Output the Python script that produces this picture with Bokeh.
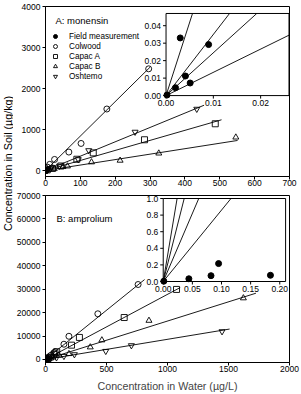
import numpy as np
from bokeh.plotting import figure
from bokeh.models import Range1d, Legend, LegendItem, Label
from bokeh.layouts import row, column
from bokeh.embed import file_html
from bokeh.resources import INLINE
from bokeh.core.properties import value

FONT = "Liberation Sans"

# ---------------- data ----------------
soil_names = ["Colwood", "Capac A", "Capac B", "Oshtemo"]
soil_markers = ["circle", "square", "triangle", "inverted_triangle"]

# A: monensin  (water conc. ug/L, soil conc. ug/kg)
mon_colwood_w = [3, 6, 12, 26, 67, 102, 176, 296]
mon_colwood_s = [40, 80, 150, 270, 450, 660, 1500, 2480]
mon_capacA_w = [5, 20, 44, 90, 137, 284, 487]
mon_capacA_s = [15, 50, 110, 275, 430, 750, 1140]
mon_capacB_w = [5, 25, 50, 63, 132, 214, 325, 546]
mon_capacB_s = [10, 40, 90, 105, 205, 245, 420, 810]
mon_oshtemo_w = [5, 15, 40, 94, 124, 257, 434]
mon_oshtemo_s = [20, 50, 110, 270, 490, 940, 1500]
mon_kd = [8.4, 2.45, 1.33, 3.5]          # fitted slopes, same order as soil_names
mon_line_end = [300, 505, 551, 455]      # x extent of each fitted line
mon_field_w = [0.0002, 0.0020, 0.0030, 0.0041, 0.0051, 0.0090]
mon_field_s = [0.0003, 0.0045, 0.0330, 0.0112, 0.0072, 0.0292]

# B: amprolium
amp_colwood_w = [4, 12, 25, 45, 70, 80, 151, 192, 429, 759]
amp_colwood_s = [120, 450, 1000, 1800, 2900, 3300, 6500, 9900, 19500, 32000]
amp_capacA_w = [6, 20, 40, 70, 92, 213, 278, 645, 1074]
amp_capacA_s = [150, 500, 1000, 2200, 3300, 6100, 9400, 17900, 29900]
amp_capacB_w = [8, 25, 60, 110, 192, 367, 462, 848, 1622]
amp_capacB_s = [120, 400, 900, 1700, 2400, 5250, 8250, 16600, 26200]
amp_oshtemo_w = [10, 40, 90, 151, 237, 494, 704, 1447]
amp_oshtemo_s = [100, 350, 800, 1400, 2130, 3550, 5980, 11950]
amp_kd = [42.0, 27.8, 16.4, 8.6]
amp_line_end = [812, 1104, 1725, 1509]
amp_field_w = [0.001, 0.044, 0.082, 0.095, 0.184]
amp_field_s = [0.004, 0.033, 0.070, 0.216, 0.075]

# axis ticks
mon_xticks = [0, 100, 200, 300, 400, 500, 600, 700]
mon_yticks = [0, 1000, 2000, 3000, 4000]
amp_xticks = [0, 500, 1000, 1500, 2000]
amp_yticks = [0, 10000, 20000, 30000, 40000, 50000, 60000, 70000]
mon_inset_xticks = [0.0, 0.01, 0.02]
mon_inset_xlabels = ["0.00", "0.01", "0.02"]
mon_inset_yticks = [0.0, 0.01, 0.02, 0.03, 0.04]
mon_inset_ylabels = ["0.00", "0.01", "0.02", "0.03", "0.04"]
amp_inset_xticks = [0.0, 0.05, 0.10, 0.15, 0.20]
amp_inset_xlabels = ["0.00", "0.05", "0.10", "0.15", "0.20"]
amp_inset_yticks = [0.0, 0.2, 0.4, 0.6, 0.8, 1.0]
amp_inset_ylabels = ["0.0", "0.2", "0.4", "0.6", "0.8", "1.0"]

TICK_FS = "8.5px"


def style_axes(p, xticks, yticks):
    for ax in (p.xaxis, p.yaxis):
        ax.axis_line_color = "black"
        ax.major_tick_line_color = "black"
        ax.major_tick_out = 3
        ax.major_tick_in = 0
        ax.minor_tick_line_color = None
        ax.major_label_text_font = FONT
        ax.major_label_text_font_size = TICK_FS
        ax.major_label_text_color = "black"
    p.xaxis.major_label_standoff = 0
    p.yaxis.major_label_standoff = 2
    p.xaxis.ticker = xticks
    p.yaxis.ticker = yticks
    p.xgrid.visible = False
    p.ygrid.visible = False
    p.outline_line_color = "black"
    p.outline_line_alpha = 1.0
    p.outline_line_width = 1


def draw_series(p, xs_list, ys_list, kds, line_ends):
    rends = []
    for xs, ys, k, xe, m in zip(xs_list, ys_list, kds, line_ends, soil_markers):
        p.line([0, xe], [0, k * xe], line_color="black", line_width=0.9)
        r = p.scatter(xs, ys, marker=m, size=6, fill_color=None,
                      line_color="black", line_width=0.9)
        rends.append(r)
    return rends


def add_inset(p, name, xr, yr, fx, fy, kds, fw, fs,
              xticks, xlabels, yticks, ylabels):
    def full(d, f):
        span = (d[1] - d[0]) / (f[1] - f[0])
        start = d[0] - f[0] * span
        return Range1d(start, start + span)

    p.extra_x_ranges = {**p.extra_x_ranges, name: full(xr, fx)}
    p.extra_y_ranges = {**p.extra_y_ranges, name: full(yr, fy)}
    kw = dict(x_range_name=name, y_range_name=name)

    p.quad(left=[xr[0]], right=[xr[1]], bottom=[yr[0]], top=[yr[1]],
           fill_color="white", line_color="black", line_width=1, **kw)
    for k in kds:
        xe = min(xr[1], yr[1] / k)
        p.line([0, xe], [0, k * xe], line_color="black", line_width=0.9, **kw)
    p.scatter(fw, fs, marker="circle", size=6, fill_color="black",
              line_color="black", **kw)
    p.ray(x=[xr[0]] * len(yticks), y=yticks, length=3, length_units="screen",
          angle=np.pi, line_color="black", line_width=1, **kw)
    p.ray(x=xticks, y=[yr[0]] * len(xticks), length=3, length_units="screen",
          angle=-np.pi / 2, line_color="black", line_width=1, **kw)
    p.text(x=[xr[0]] * len(yticks), y=yticks, text=ylabels,
           text_align="right", text_baseline="middle", x_offset=-5,
           text_font=value(FONT), text_font_size=TICK_FS, text_color="black", **kw)
    p.text(x=xticks, y=[yr[0]] * len(xticks), text=xlabels,
           text_align="center", text_baseline="top", y_offset=4,
           text_font=value(FONT), text_font_size=TICK_FS, text_color="black", **kw)


# ---------------- panel A ----------------
pa = figure(width=288, height=189, x_range=Range1d(0, 700), y_range=Range1d(-146, 4000),
            output_backend="svg", toolbar_location=None,
            min_border_left=30, min_border_right=12, min_border_top=6, min_border_bottom=13)
style_axes(pa, mon_xticks, mon_yticks)
r_field_a = pa.scatter(mon_field_w, mon_field_s, marker="circle", size=6,
                       fill_color="black", line_color="black")
soil_r = draw_series(pa,
                     [mon_colwood_w, mon_capacA_w, mon_capacB_w, mon_oshtemo_w],
                     [mon_colwood_s, mon_capacA_s, mon_capacB_s, mon_oshtemo_s],
                     mon_kd, mon_line_end)
add_inset(pa, "insetA", (0.0, 0.026), (0.0, 0.047), (0.494, 0.998), (0.476, 0.959),
          mon_kd, mon_field_w, mon_field_s,
          mon_inset_xticks, mon_inset_xlabels, mon_inset_yticks, mon_inset_ylabels)

legend = Legend(
    items=[LegendItem(label="Field measurement", renderers=[r_field_a])]
    + [LegendItem(label=n, renderers=[r]) for n, r in zip(soil_names, soil_r)],
    location=(4, 95), border_line_alpha=0, background_fill_alpha=0,
    padding=0, margin=0, spacing=0, glyph_width=12, glyph_height=10,
    label_height=10, label_standoff=8,
    label_text_font=FONT, label_text_font_size="8.2px", label_text_color="black")
pa.add_layout(legend)
pa.add_layout(Label(x=10, y=156, x_units="screen", y_units="screen", text="A: monensin",
                    text_font=FONT, text_font_size="9.5px", text_baseline="middle",
                    text_color="black"))

# ---------------- panel B ----------------
pb = figure(width=288, height=205, x_range=Range1d(0, 2000), y_range=Range1d(-1300, 70000),
            output_backend="svg", toolbar_location=None,
            min_border_left=30, min_border_right=12, min_border_top=6, min_border_bottom=32)
style_axes(pb, amp_xticks, amp_yticks)
pb.xaxis.axis_label = "Concentration in Water (\u00b5g/L)"
pb.xaxis.axis_label_text_font = FONT
pb.xaxis.axis_label_text_font_size = "10.7px"
pb.xaxis.axis_label_text_font_style = "normal"
pb.xaxis.axis_label_standoff = 5
pb.scatter(amp_field_w, amp_field_s, marker="circle", size=6,
           fill_color="black", line_color="black")
draw_series(pb,
            [amp_colwood_w, amp_capacA_w, amp_capacB_w, amp_oshtemo_w],
            [amp_colwood_s, amp_capacA_s, amp_capacB_s, amp_oshtemo_s],
            amp_kd, amp_line_end)
add_inset(pb, "insetB", (0.0, 0.21), (0.0, 1.0), (0.4825, 0.984), (0.485, 0.982),
          amp_kd, amp_field_w, amp_field_s,
          amp_inset_xticks, amp_inset_xlabels, amp_inset_yticks, amp_inset_ylabels)
pb.add_layout(Label(x=11, y=144, x_units="screen", y_units="screen", text="B: amprolium",
                    text_font=FONT, text_font_size="9.5px", text_baseline="middle",
                    text_color="black"))

# ---------------- shared y-axis title ----------------
pl = figure(width=13, height=394, x_range=Range1d(0, 13), y_range=Range1d(0, 394),
            output_backend="svg", toolbar_location=None,
            x_axis_location=None, y_axis_location=None,
            min_border=0, min_border_left=0, min_border_right=0,
            min_border_top=0, min_border_bottom=0)
pl.outline_line_color = None
pl.xgrid.visible = False
pl.ygrid.visible = False
pl.text(x=[7], y=[231], text=["Concentration in Soil (\u00b5g/kg)"], angle=np.pi / 2,
        text_align="center", text_baseline="middle",
        text_font=value(FONT), text_font_size="10.7px", text_color="black")

layout = row(pl, column(pa, pb))
open("out.html", "w").write(file_html(layout, INLINE))
